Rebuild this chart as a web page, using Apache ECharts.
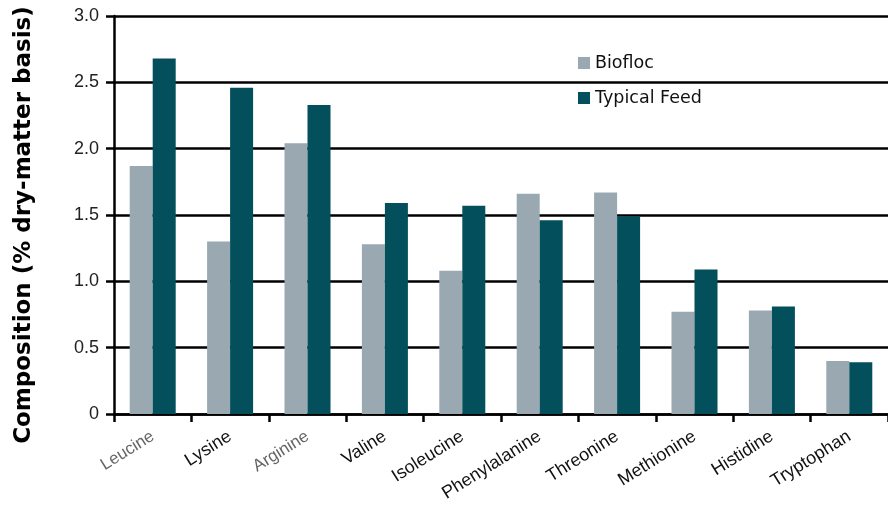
<!DOCTYPE html>
<html><head><meta charset="utf-8">
<script src="https://cdn.jsdelivr.net/npm/echarts@6/dist/echarts.min.js"></script>
<style>html,body{margin:0;padding:0;background:#fff}#c{width:888px;height:510px}</style>
</head><body><div id="c"></div>
<script>
const categories = ['Leucine','Lysine','Arginine','Valine','Isoleucine','Phenylalanine','Threonine','Methionine','Histidine','Tryptophan'];
const biofloc = [1.87, 1.30, 2.04, 1.28, 1.08, 1.66, 1.67, 0.77, 0.78, 0.40];
const typicalFeed = [2.68, 2.46, 2.33, 1.59, 1.57, 1.46, 1.49, 1.09, 0.81, 0.39];
const lightLabels = ['Leucine','Arginine'];

const chart = echarts.init(document.getElementById('c'));
chart.setOption({
  animation: false,
  textStyle: {fontFamily: 'Liberation Sans, Arial, sans-serif'},
  grid: {left: 114, right: 0, top: 16, bottom: 96},
  legend: {
    orient: 'vertical', left: 573, top: 49, itemGap: 17,
    itemWidth: 12, itemHeight: 12, icon: 'rect',
    textStyle: {fontSize: 17.5, color: '#111', fontFamily: 'DejaVu Sans, sans-serif'},
    data: ['Biofloc', 'Typical Feed']
  },
  xAxis: {
    type: 'category', data: categories,
    axisLine: {lineStyle: {color: '#000', width: 2.5}},
    axisTick: {show: true, length: 8, lineStyle: {color: '#000', width: 2.5}},
    axisLabel: {
      rotate: 32, fontSize: 18, color: '#111', margin: 21, interval: 0,
      formatter: v => lightLabels.includes(v) ? '{l|' + v + '}' : v,
      rich: {l: {color: '#666', fontSize: 17, fontFamily: 'Liberation Sans, Arial, sans-serif'}}
    }
  },
  yAxis: {
    type: 'value', min: 0, max: 3, interval: 0.5,
    name: 'Composition (% dry-matter basis)', nameLocation: 'middle', nameGap: 78,
    nameTextStyle: {fontSize: 23, fontWeight: 'bold', color: '#000', fontFamily: 'DejaVu Sans, sans-serif', padding: [0, 20, 0, 0]},
    axisLine: {show: true, lineStyle: {color: '#000', width: 2.5}},
    axisTick: {show: true, length: 8, lineStyle: {color: '#000', width: 2.5}},
    axisLabel: {fontSize: 18, color: '#222', margin: 15, formatter: v => v === 0 ? '0' : v.toFixed(1)},
    splitLine: {show: true, lineStyle: {color: '#000', width: 2.5}}
  },
  series: [
    {name: 'Biofloc', type: 'bar', data: biofloc, barWidth: 23, barGap: '0%', itemStyle: {color: '#9aa9b1'}, z: 3},
    {name: 'Typical Feed', type: 'bar', data: typicalFeed, barWidth: 23, barGap: '0%', itemStyle: {color: '#034f5b'}, z: 3}
  ]
});
</script></body></html>
